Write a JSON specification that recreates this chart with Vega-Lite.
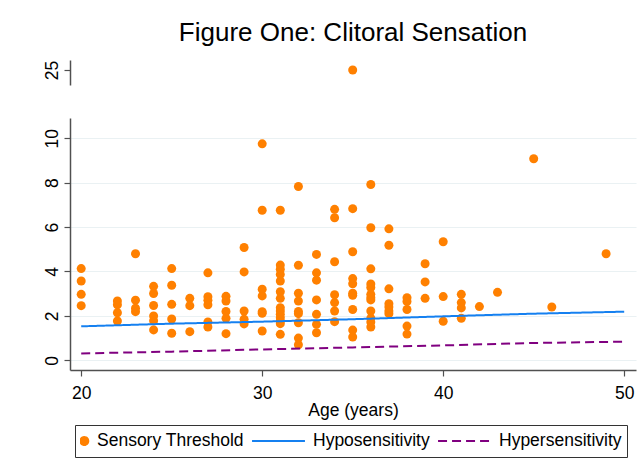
{
  "$schema": "https://vega.github.io/schema/vega-lite/v6.json",
  "background": "white",
  "padding": {"left": 43, "top": 20, "right": 5, "bottom": 5},
  "datasets": {
    "points": [
      {"age": 20, "threshold": 4.13, "series": "Sensory Threshold"},
      {"age": 20, "threshold": 3.57, "series": "Sensory Threshold"},
      {"age": 20, "threshold": 2.97, "series": "Sensory Threshold"},
      {"age": 20, "threshold": 2.46, "series": "Sensory Threshold"},
      {"age": 22, "threshold": 2.67, "series": "Sensory Threshold"},
      {"age": 22, "threshold": 2.5, "series": "Sensory Threshold"},
      {"age": 22, "threshold": 2.14, "series": "Sensory Threshold"},
      {"age": 22, "threshold": 1.77, "series": "Sensory Threshold"},
      {"age": 23, "threshold": 4.8, "series": "Sensory Threshold"},
      {"age": 23, "threshold": 2.71, "series": "Sensory Threshold"},
      {"age": 23, "threshold": 2.35, "series": "Sensory Threshold"},
      {"age": 23, "threshold": 2.19, "series": "Sensory Threshold"},
      {"age": 24, "threshold": 3.33, "series": "Sensory Threshold"},
      {"age": 24, "threshold": 3.01, "series": "Sensory Threshold"},
      {"age": 24, "threshold": 2.47, "series": "Sensory Threshold"},
      {"age": 24, "threshold": 2.0, "series": "Sensory Threshold"},
      {"age": 24, "threshold": 1.78, "series": "Sensory Threshold"},
      {"age": 24, "threshold": 1.37, "series": "Sensory Threshold"},
      {"age": 25, "threshold": 4.13, "series": "Sensory Threshold"},
      {"age": 25, "threshold": 3.38, "series": "Sensory Threshold"},
      {"age": 25, "threshold": 2.52, "series": "Sensory Threshold"},
      {"age": 25, "threshold": 1.86, "series": "Sensory Threshold"},
      {"age": 25, "threshold": 1.22, "series": "Sensory Threshold"},
      {"age": 26, "threshold": 2.79, "series": "Sensory Threshold"},
      {"age": 26, "threshold": 2.46, "series": "Sensory Threshold"},
      {"age": 26, "threshold": 1.29, "series": "Sensory Threshold"},
      {"age": 27, "threshold": 3.94, "series": "Sensory Threshold"},
      {"age": 27, "threshold": 2.86, "series": "Sensory Threshold"},
      {"age": 27, "threshold": 2.7, "series": "Sensory Threshold"},
      {"age": 27, "threshold": 2.5, "series": "Sensory Threshold"},
      {"age": 27, "threshold": 1.73, "series": "Sensory Threshold"},
      {"age": 27, "threshold": 1.5, "series": "Sensory Threshold"},
      {"age": 28, "threshold": 2.88, "series": "Sensory Threshold"},
      {"age": 28, "threshold": 2.67, "series": "Sensory Threshold"},
      {"age": 28, "threshold": 2.2, "series": "Sensory Threshold"},
      {"age": 28, "threshold": 1.89, "series": "Sensory Threshold"},
      {"age": 28, "threshold": 1.2, "series": "Sensory Threshold"},
      {"age": 29, "threshold": 5.08, "series": "Sensory Threshold"},
      {"age": 29, "threshold": 3.98, "series": "Sensory Threshold"},
      {"age": 29, "threshold": 2.22, "series": "Sensory Threshold"},
      {"age": 29, "threshold": 1.85, "series": "Sensory Threshold"},
      {"age": 29, "threshold": 1.64, "series": "Sensory Threshold"},
      {"age": 30, "threshold": 9.75, "series": "Sensory Threshold"},
      {"age": 30, "threshold": 6.76, "series": "Sensory Threshold"},
      {"age": 30, "threshold": 3.2, "series": "Sensory Threshold"},
      {"age": 30, "threshold": 2.9, "series": "Sensory Threshold"},
      {"age": 30, "threshold": 2.19, "series": "Sensory Threshold"},
      {"age": 30, "threshold": 2.12, "series": "Sensory Threshold"},
      {"age": 30, "threshold": 1.32, "series": "Sensory Threshold"},
      {"age": 31, "threshold": 6.76, "series": "Sensory Threshold"},
      {"age": 31, "threshold": 4.29, "series": "Sensory Threshold"},
      {"age": 31, "threshold": 4.1, "series": "Sensory Threshold"},
      {"age": 31, "threshold": 3.87, "series": "Sensory Threshold"},
      {"age": 31, "threshold": 3.57, "series": "Sensory Threshold"},
      {"age": 31, "threshold": 3.09, "series": "Sensory Threshold"},
      {"age": 31, "threshold": 2.79, "series": "Sensory Threshold"},
      {"age": 31, "threshold": 2.37, "series": "Sensory Threshold"},
      {"age": 31, "threshold": 2.22, "series": "Sensory Threshold"},
      {"age": 31, "threshold": 2.07, "series": "Sensory Threshold"},
      {"age": 31, "threshold": 1.92, "series": "Sensory Threshold"},
      {"age": 31, "threshold": 1.77, "series": "Sensory Threshold"},
      {"age": 31, "threshold": 1.65, "series": "Sensory Threshold"},
      {"age": 31, "threshold": 1.17, "series": "Sensory Threshold"},
      {"age": 32, "threshold": 7.83, "series": "Sensory Threshold"},
      {"age": 32, "threshold": 4.28, "series": "Sensory Threshold"},
      {"age": 32, "threshold": 3.02, "series": "Sensory Threshold"},
      {"age": 32, "threshold": 2.67, "series": "Sensory Threshold"},
      {"age": 32, "threshold": 2.2, "series": "Sensory Threshold"},
      {"age": 32, "threshold": 2.1, "series": "Sensory Threshold"},
      {"age": 32, "threshold": 1.69, "series": "Sensory Threshold"},
      {"age": 32, "threshold": 1.0, "series": "Sensory Threshold"},
      {"age": 32, "threshold": 0.7, "series": "Sensory Threshold"},
      {"age": 33, "threshold": 4.77, "series": "Sensory Threshold"},
      {"age": 33, "threshold": 3.94, "series": "Sensory Threshold"},
      {"age": 33, "threshold": 3.61, "series": "Sensory Threshold"},
      {"age": 33, "threshold": 2.72, "series": "Sensory Threshold"},
      {"age": 33, "threshold": 2.07, "series": "Sensory Threshold"},
      {"age": 33, "threshold": 1.62, "series": "Sensory Threshold"},
      {"age": 33, "threshold": 1.24, "series": "Sensory Threshold"},
      {"age": 34, "threshold": 6.8, "series": "Sensory Threshold"},
      {"age": 34, "threshold": 6.42, "series": "Sensory Threshold"},
      {"age": 34, "threshold": 4.44, "series": "Sensory Threshold"},
      {"age": 34, "threshold": 2.95, "series": "Sensory Threshold"},
      {"age": 34, "threshold": 2.6, "series": "Sensory Threshold"},
      {"age": 34, "threshold": 2.22, "series": "Sensory Threshold"},
      {"age": 34, "threshold": 1.74, "series": "Sensory Threshold"},
      {"age": 35, "threshold": 25, "series": "Sensory Threshold"},
      {"age": 35, "threshold": 6.83, "series": "Sensory Threshold"},
      {"age": 35, "threshold": 4.89, "series": "Sensory Threshold"},
      {"age": 35, "threshold": 3.68, "series": "Sensory Threshold"},
      {"age": 35, "threshold": 3.45, "series": "Sensory Threshold"},
      {"age": 35, "threshold": 3.02, "series": "Sensory Threshold"},
      {"age": 35, "threshold": 2.93, "series": "Sensory Threshold"},
      {"age": 35, "threshold": 2.29, "series": "Sensory Threshold"},
      {"age": 35, "threshold": 1.36, "series": "Sensory Threshold"},
      {"age": 35, "threshold": 1.05, "series": "Sensory Threshold"},
      {"age": 36, "threshold": 7.92, "series": "Sensory Threshold"},
      {"age": 36, "threshold": 5.97, "series": "Sensory Threshold"},
      {"age": 36, "threshold": 4.12, "series": "Sensory Threshold"},
      {"age": 36, "threshold": 3.44, "series": "Sensory Threshold"},
      {"age": 36, "threshold": 3.28, "series": "Sensory Threshold"},
      {"age": 36, "threshold": 2.97, "series": "Sensory Threshold"},
      {"age": 36, "threshold": 2.82, "series": "Sensory Threshold"},
      {"age": 36, "threshold": 2.72, "series": "Sensory Threshold"},
      {"age": 36, "threshold": 2.22, "series": "Sensory Threshold"},
      {"age": 36, "threshold": 1.9, "series": "Sensory Threshold"},
      {"age": 36, "threshold": 1.72, "series": "Sensory Threshold"},
      {"age": 36, "threshold": 1.5, "series": "Sensory Threshold"},
      {"age": 37, "threshold": 5.92, "series": "Sensory Threshold"},
      {"age": 37, "threshold": 5.18, "series": "Sensory Threshold"},
      {"age": 37, "threshold": 3.22, "series": "Sensory Threshold"},
      {"age": 37, "threshold": 2.55, "series": "Sensory Threshold"},
      {"age": 37, "threshold": 2.4, "series": "Sensory Threshold"},
      {"age": 37, "threshold": 2.22, "series": "Sensory Threshold"},
      {"age": 37, "threshold": 2.1, "series": "Sensory Threshold"},
      {"age": 38, "threshold": 2.82, "series": "Sensory Threshold"},
      {"age": 38, "threshold": 2.65, "series": "Sensory Threshold"},
      {"age": 38, "threshold": 2.29, "series": "Sensory Threshold"},
      {"age": 38, "threshold": 1.54, "series": "Sensory Threshold"},
      {"age": 38, "threshold": 1.18, "series": "Sensory Threshold"},
      {"age": 39, "threshold": 4.35, "series": "Sensory Threshold"},
      {"age": 39, "threshold": 3.53, "series": "Sensory Threshold"},
      {"age": 39, "threshold": 2.79, "series": "Sensory Threshold"},
      {"age": 40, "threshold": 5.34, "series": "Sensory Threshold"},
      {"age": 40, "threshold": 2.87, "series": "Sensory Threshold"},
      {"age": 40, "threshold": 1.76, "series": "Sensory Threshold"},
      {"age": 41, "threshold": 2.97, "series": "Sensory Threshold"},
      {"age": 41, "threshold": 2.6, "series": "Sensory Threshold"},
      {"age": 41, "threshold": 2.36, "series": "Sensory Threshold"},
      {"age": 41, "threshold": 1.89, "series": "Sensory Threshold"},
      {"age": 42, "threshold": 2.42, "series": "Sensory Threshold"},
      {"age": 43, "threshold": 3.06, "series": "Sensory Threshold"},
      {"age": 45, "threshold": 9.08, "series": "Sensory Threshold"},
      {"age": 46, "threshold": 2.4, "series": "Sensory Threshold"},
      {"age": 49, "threshold": 4.8, "series": "Sensory Threshold"}
    ],
    "lines": [
      {"age": 20, "value": 1.53, "series": "Hyposensitivity"},
      {"age": 25, "value": 1.65, "series": "Hyposensitivity"},
      {"age": 30, "value": 1.74, "series": "Hyposensitivity"},
      {"age": 35, "value": 1.85, "series": "Hyposensitivity"},
      {"age": 40, "value": 1.98, "series": "Hyposensitivity"},
      {"age": 45, "value": 2.1, "series": "Hyposensitivity"},
      {"age": 50, "value": 2.19, "series": "Hyposensitivity"},
      {"age": 20, "value": 0.31, "series": "Hypersensitivity"},
      {"age": 25, "value": 0.39, "series": "Hypersensitivity"},
      {"age": 30, "value": 0.49, "series": "Hypersensitivity"},
      {"age": 35, "value": 0.58, "series": "Hypersensitivity"},
      {"age": 40, "value": 0.67, "series": "Hypersensitivity"},
      {"age": 45, "value": 0.78, "series": "Hypersensitivity"},
      {"age": 50, "value": 0.84, "series": "Hypersensitivity"}
    ]
  },
  "spacing": 33,
  "vconcat": [
    {
      "width": 566,
      "height": 25,
      "title": {
        "text": "Figure One: Clitoral Sensation",
        "fontSize": 26,
        "fontWeight": "normal",
        "color": "black",
        "font": "Liberation Sans",
        "anchor": "middle",
        "frame": "group",
        "baseline": "alphabetic",
        "offset": -7
      },
      "data": {"name": "points"},
      "transform": [{"filter": "datum.threshold > 20"}],
      "mark": {"type": "circle", "size": 81, "opacity": 1, "color": "#ff8000"},
      "encoding": {
        "x": {"field": "age", "type": "quantitative", "scale": {"domain": [19.381, 50.652], "nice": false, "zero": false}, "axis": null},
        "y": {"field": "threshold", "type": "quantitative", "scale": {"domain": [24.324, 25.45], "nice": false, "zero": false}, "axis": {"values": [25], "grid": false, "title": null}}
      }
    },
    {
      "width": 566,
      "height": 252,
      "layer": [
        {
          "data": {"name": "points"},
          "transform": [{"filter": "datum.threshold < 20"}],
          "mark": {"type": "circle", "size": 81, "opacity": 1},
          "encoding": {
            "x": {"field": "age", "type": "quantitative", "scale": {"domain": [19.381, 50.652], "nice": false, "zero": false}, "axis": {"values": [20, 30, 40, 50], "grid": false, "title": "Age (years)"}},
            "y": {"field": "threshold", "type": "quantitative", "scale": {"domain": [-0.437, 10.914], "nice": false, "zero": false}, "axis": {"values": [0, 2, 4, 6, 8, 10], "grid": true, "title": null}},
            "color": {
              "field": "series",
              "type": "nominal",
              "scale": {"domain": ["Sensory Threshold", "Hyposensitivity", "Hypersensitivity"], "range": ["#ff8000", "#1580f0", "#800080"]},
              "legend": {
                "title": null,
                "orient": "none",
                "legendX": 5,
                "legendY": 365,
                "direction": "horizontal",
                "strokeColor": "#333333",
                "fillColor": "white",
                "padding": 5,
                "clipHeight": 22,
                "labelFontSize": 17.5,
                "labelFont": "Liberation Sans",
                "labelColor": "black",
                "labelOffset": {"expr": "datum.value === 'Sensory Threshold' ? -38 : 7"},
                "columnPadding": 7,
                "symbolStrokeWidth": 2,
                "symbolOpacity": 1,
                "symbolType": {"expr": "datum.value === 'Sensory Threshold' ? 'M-6.8,0A1,1,0,1,1,-4.8,0A1,1,0,1,1,-6.8,0Z' : 'stroke'"},
                "symbolSize": {"expr": "datum.value === 'Sensory Threshold' ? 64 : 2800"},
                "symbolDash": {"expr": "datum.value === 'Hypersensitivity' ? [9, 5] : [1, 0]"}
              }
            }
          }
        },
        {
          "data": {"name": "lines"},
          "mark": {"type": "line", "strokeWidth": 2},
          "encoding": {
            "x": {"field": "age", "type": "quantitative", "scale": {"domain": [19.381, 50.652], "nice": false, "zero": false}},
            "y": {"field": "value", "type": "quantitative", "scale": {"domain": [-0.437, 10.914], "nice": false, "zero": false}},
            "color": {"field": "series", "type": "nominal"},
            "strokeDash": {
              "field": "series",
              "type": "nominal",
              "scale": {"domain": ["Hyposensitivity", "Hypersensitivity"], "range": [[1, 0], [9, 5]]},
              "legend": null
            }
          }
        }
      ]
    }
  ],
  "config": {
    "font": "Liberation Sans",
    "view": {"stroke": null},
    "axis": {
      "labelFont": "Liberation Sans",
      "labelFontSize": 17.5,
      "labelColor": "black",
      "titleFont": "Liberation Sans",
      "titleFontSize": 17.5,
      "titleFontWeight": "normal",
      "titleColor": "black",
      "domainColor": "#505050",
      "domainWidth": 1.5,
      "tickColor": "#505050",
      "tickWidth": 1.2,
      "tickSize": 6,
      "gridColor": "#eaf1f3",
      "gridWidth": 1.2,
      "labelFlush": false
    },
    "axisY": {
      "labelAngle": -90,
      "labelAlign": "center",
      "labelBaseline": "alphabetic",
      "labelPadding": 6.5
    },
    "axisX": {
      "labelPadding": 8,
      "titlePadding": 0
    }
  }
}
